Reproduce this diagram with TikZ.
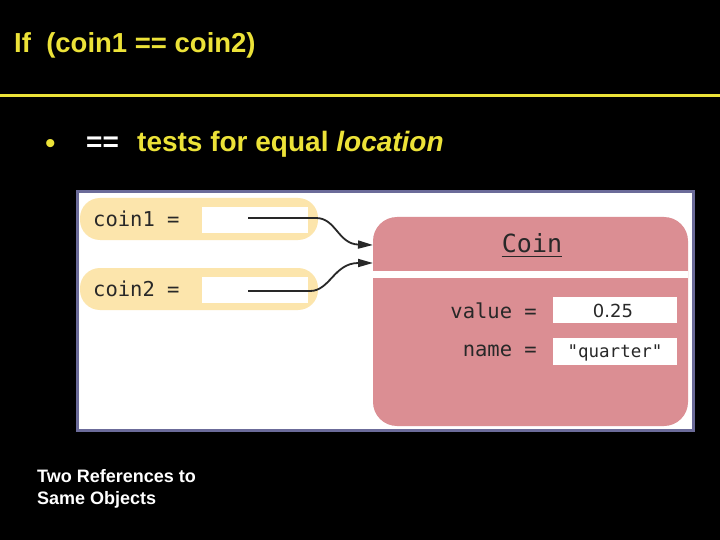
\documentclass[tikz,border=0pt]{standalone}
\usepackage{fontspec}
\setmainfont{Liberation Sans}
\newfontfamily\monof{DejaVu Sans Mono}
\newfontfamily\dvsans{DejaVu Sans}
\usetikzlibrary{arrows.meta}
\definecolor{ttl}{RGB}{236,226,56}
\definecolor{panelborder}{RGB}{107,107,153}
\definecolor{pillfill}{RGB}{252,229,172}
\definecolor{objpink}{RGB}{219,142,147}
\definecolor{ink}{RGB}{40,40,40}
\tikzset{
  txt/.style={inner sep=0pt, anchor=base west},
  ttltext/.style={txt, text=ttl, font=\bfseries\fontsize{27.5}{32}\selectfont},
  bultext/.style={txt, font=\bfseries\fontsize{28}{32}\selectfont},
  captext/.style={txt, text=white, font=\bfseries\fontsize{18}{21}\selectfont},
  box/.style={inner sep=0pt, outer sep=0pt, anchor=north west, draw=none},
  pillbox/.style={box, fill=pillfill, rounded corners=20pt, minimum width=238pt, minimum height=42pt},
  valbox/.style={box, fill=white, minimum width=124pt, minimum height=26pt},
  refbox/.style={box, fill=white, minimum width=106pt, minimum height=26pt},
  codetext/.style={inner sep=0pt, text=ink, font=\monof\fontsize{20.5}{24}\selectfont},
  refline/.style={draw=ink, line width=1.8pt, -{Triangle[length=15pt,width=8pt]}},
}
\begin{document}
\begin{tikzpicture}[x=1pt,y=-1pt]
\useasboundingbox (0,0) rectangle (720,540);
\fill[black] (0,0) rectangle (720,540);
% title
\node[ttltext] (title) at (14,53) {If\ \ (coin1 == coin2)};
\coordinate (ruleL) at (0,96);
\coordinate (ruleR) at (720,96);
\draw[ttl, line width=3pt] (ruleL) -- (ruleR);
% bullet line
\node[txt, text=ttl, font=\fontsize{30}{32}\selectfont] (bul) at (45,154) {\textbullet};
\node[bultext, text=white] (eqeq) at (86,152) {==};
\node[bultext, text=ttl] (tests) at (137,152) {tests for equal \textit{location}};
% panel
\node[box, fill=white, draw=panelborder, line width=3pt, minimum width=616pt, minimum height=239pt] (panel) at (77.5,191.5) {};
% pills
\node[pillbox] (pill1) at (80,198) {};
\node[pillbox] (pill2) at (80,268) {};
\node[refbox] (box1) at (202,207) {};
\node[refbox] (box2) at (202,277) {};
\node[codetext, anchor=base west] (lab1) at (93,226) {coin1 =};
\node[codetext, anchor=base west] (lab2) at (93,296) {coin2 =};
% object
\node[box, fill=objpink, rounded corners=24pt, minimum width=315pt, minimum height=209pt] (coin) at (373,217) {};
\node[box, fill=white, minimum width=315pt, minimum height=7pt] (sep) at (373,270.5) {};
\node[codetext, anchor=base, font=\monof\fontsize{25}{28}\selectfont] (ctitle) at (532,252) {Coin};
\draw[ink, line width=1.6pt] ([yshift=-4.5pt]ctitle.base west) -- ([yshift=-4.5pt]ctitle.base east);
\node[codetext, anchor=base east] (vlab) at (537,318) {value =};
\node[codetext, anchor=base east] (nlab) at (537,356) {name =};
\node[valbox] (vbox) at (553,297) {};
\node[valbox, minimum height=27pt] (nbox) at (553,338) {};
\node[inner sep=0pt, text=ink, font=\dvsans\fontsize{18}{22}\selectfont, anchor=base] (vval) at (613,317) {0.25};
\node[inner sep=0pt, text=ink, font=\monof\fontsize{17.5}{21}\selectfont, anchor=base] (nval) at (615,357) {"quarter"};
% references
\coordinate (p1) at (248,218);
\coordinate (p2) at (248,291);
\coordinate (t1) at (373,245);
\coordinate (t2) at (373,263);
\draw[refline] (p1) -- (316,218) .. controls (336,218) and (338,244) .. (t1);
\draw[refline] (p2) -- (310,291) .. controls (330,291) and (334,263) .. (t2);
% caption
\node[captext] (cap1) at (37,482) {Two References to};
\node[captext] (cap2) at (37,504) {Same Objects};
\end{tikzpicture}
\end{document}
